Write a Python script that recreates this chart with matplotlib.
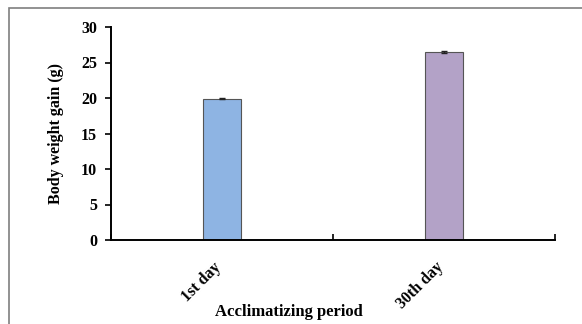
import matplotlib
matplotlib.use('Agg')
import matplotlib.pyplot as plt
from matplotlib.patches import Rectangle

plt.rcParams['font.family'] = 'Liberation Serif'
plt.rcParams['font.weight'] = 'bold'

# data
categories = ['1st day', '30th day']
gain = [19.9, 26.5]
err = [0.1, 0.1]
colors = ['#8EB4E3', '#B3A2C7']

fig = plt.figure(figsize=(5.82, 3.24), dpi=100)
ax = fig.add_axes([111 / 582, 1 - 240 / 324, 444 / 582, 213 / 324])

# outer frame of the picture
fig.patches.append(Rectangle((8.5 / 582, -0.1), 1.0, (324 - 8.5) / 324 + 0.1,
                             transform=fig.transFigure, fill=False,
                             edgecolor='#7f7f7f', linewidth=1.2))

x = [0, 1]
ax.bar(x, gain, width=0.167, color=colors, edgecolor='#555555', linewidth=0.8,
       yerr=err, error_kw=dict(ecolor='#222222', elinewidth=0.8, capsize=2.5, capthick=1))

ax.set_xlim(-0.5, 1.5)
ax.set_ylim(0, 30)
ax.set_yticks(range(0, 31, 5))
ax.tick_params(axis='y', direction='out', length=4, width=1.2, labelsize=11.5, pad=6)

ax.set_xticks([-0.5, 0.5, 1.5])
ax.set_xticklabels([])
ax.tick_params(axis='x', direction='in', length=4, width=1.2)
for xi, lab in zip(x, categories):
    ax.text(xi - 0.04, -2.7, lab, rotation=45, ha='right', va='top', fontsize=11.5,
            fontweight='bold', rotation_mode='anchor', transform=ax.transData)

for s in ['top', 'right']:
    ax.spines[s].set_visible(False)
for s in ['left', 'bottom']:
    ax.spines[s].set_linewidth(1.4)

ax.set_ylabel('Body weight gain (g)', fontsize=11.5, fontweight='bold', labelpad=12)
fig.text(289 / 582, 1 - 312 / 324, 'Acclimatizing period', ha='center', va='center',
         fontsize=12, fontweight='bold')

fig.savefig('out.png', dpi=100, facecolor='white')
